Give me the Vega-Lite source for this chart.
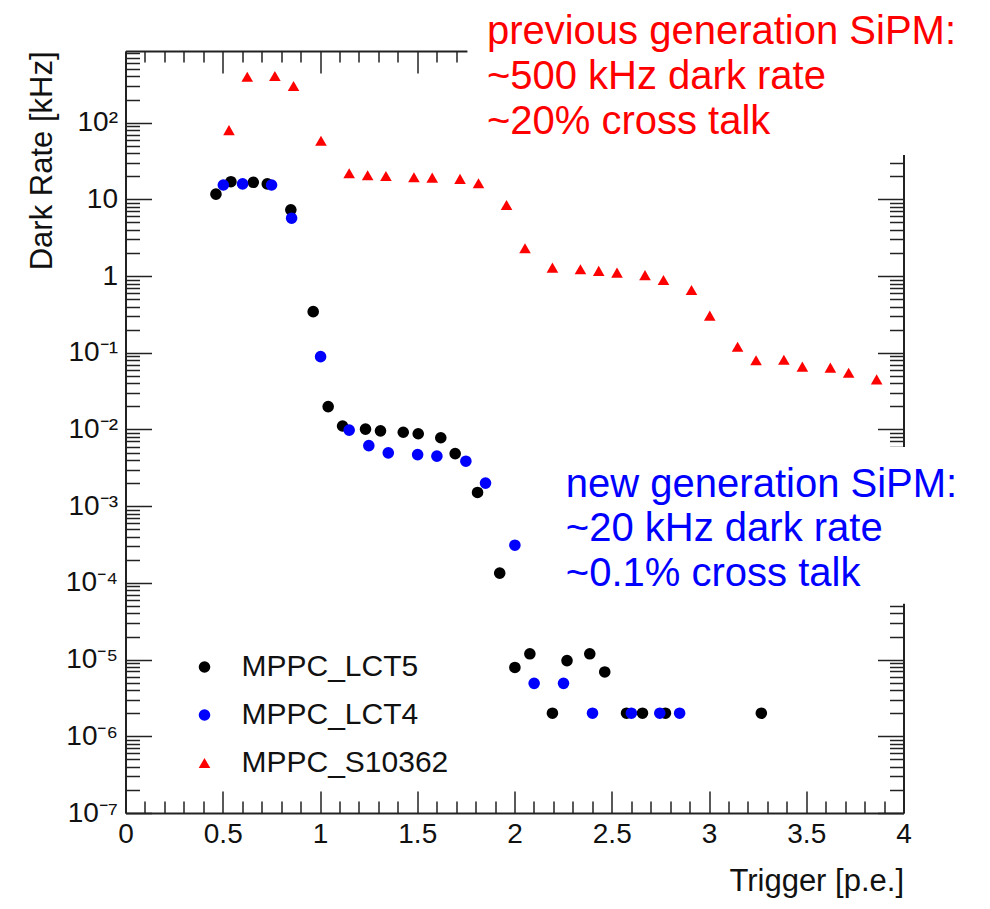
{
  "$schema": "https://vega.github.io/schema/vega-lite/v6.json",
  "width": 778,
  "height": 762,
  "autosize": {"type": "none"},
  "padding": {"left": 125.5, "top": 51, "right": 86.5, "bottom": 96},
  "background": "white",
  "config": {
    "view": {"stroke": null},
    "font": "Liberation Sans",
    "axis": {
      "grid": false,
      "domainColor": "#222222",
      "domainWidth": 2,
      "tickColor": "#222222",
      "tickWidth": 1.5,
      "labelColor": "#111111",
      "labelFont": "Liberation Sans",
      "titleFont": "Liberation Sans",
      "titleColor": "#111111",
      "titleFontWeight": "normal",
      "labelFlush": false,
      "labelOverlap": false
    }
  },
  "datasets": {
    "points": [
      {"s": "MPPC_LCT5", "x": 0.465, "y": 11.7},
      {"s": "MPPC_LCT5", "x": 0.542, "y": 17.0},
      {"s": "MPPC_LCT5", "x": 0.657, "y": 16.7},
      {"s": "MPPC_LCT5", "x": 0.729, "y": 15.9},
      {"s": "MPPC_LCT5", "x": 0.850, "y": 7.3},
      {"s": "MPPC_LCT5", "x": 0.965, "y": 0.344},
      {"s": "MPPC_LCT5", "x": 1.042, "y": 0.0199},
      {"s": "MPPC_LCT5", "x": 1.116, "y": 0.0111},
      {"s": "MPPC_LCT5", "x": 1.234, "y": 0.0101},
      {"s": "MPPC_LCT5", "x": 1.311, "y": 0.0096},
      {"s": "MPPC_LCT5", "x": 1.428, "y": 0.0092},
      {"s": "MPPC_LCT5", "x": 1.505, "y": 0.0088},
      {"s": "MPPC_LCT5", "x": 1.621, "y": 0.0078},
      {"s": "MPPC_LCT5", "x": 1.695, "y": 0.00485},
      {"s": "MPPC_LCT5", "x": 1.810, "y": 0.00151},
      {"s": "MPPC_LCT5", "x": 1.924, "y": 0.000134},
      {"s": "MPPC_LCT5", "x": 2.002, "y": 0.0000079},
      {"s": "MPPC_LCT5", "x": 2.079, "y": 0.0000119},
      {"s": "MPPC_LCT5", "x": 2.195, "y": 0.000002},
      {"s": "MPPC_LCT5", "x": 2.270, "y": 0.0000097},
      {"s": "MPPC_LCT5", "x": 2.387, "y": 0.0000119},
      {"s": "MPPC_LCT5", "x": 2.464, "y": 0.0000069},
      {"s": "MPPC_LCT5", "x": 2.576, "y": 0.000002},
      {"s": "MPPC_LCT5", "x": 2.658, "y": 0.000002},
      {"s": "MPPC_LCT5", "x": 2.776, "y": 0.000002},
      {"s": "MPPC_LCT5", "x": 3.269, "y": 0.000002},
      {"s": "MPPC_LCT4", "x": 0.503, "y": 15.4},
      {"s": "MPPC_LCT4", "x": 0.602, "y": 15.9},
      {"s": "MPPC_LCT4", "x": 0.751, "y": 15.4},
      {"s": "MPPC_LCT4", "x": 0.854, "y": 5.68},
      {"s": "MPPC_LCT4", "x": 1.003, "y": 0.089},
      {"s": "MPPC_LCT4", "x": 1.150, "y": 0.0098},
      {"s": "MPPC_LCT4", "x": 1.251, "y": 0.00617},
      {"s": "MPPC_LCT4", "x": 1.351, "y": 0.00496},
      {"s": "MPPC_LCT4", "x": 1.502, "y": 0.00471},
      {"s": "MPPC_LCT4", "x": 1.601, "y": 0.00449},
      {"s": "MPPC_LCT4", "x": 1.750, "y": 0.00386},
      {"s": "MPPC_LCT4", "x": 1.851, "y": 0.0020},
      {"s": "MPPC_LCT4", "x": 2.002, "y": 0.00031},
      {"s": "MPPC_LCT4", "x": 2.101, "y": 0.0000049},
      {"s": "MPPC_LCT4", "x": 2.252, "y": 0.0000049},
      {"s": "MPPC_LCT4", "x": 2.401, "y": 0.000002},
      {"s": "MPPC_LCT4", "x": 2.601, "y": 0.000002},
      {"s": "MPPC_LCT4", "x": 2.747, "y": 0.000002},
      {"s": "MPPC_LCT4", "x": 2.849, "y": 0.000002},
      {"s": "MPPC_S10362", "x": 0.532, "y": 80},
      {"s": "MPPC_S10362", "x": 0.626, "y": 398},
      {"s": "MPPC_S10362", "x": 0.768, "y": 406},
      {"s": "MPPC_S10362", "x": 0.864, "y": 301},
      {"s": "MPPC_S10362", "x": 1.005, "y": 58},
      {"s": "MPPC_S10362", "x": 1.150, "y": 21.9},
      {"s": "MPPC_S10362", "x": 1.245, "y": 20.6},
      {"s": "MPPC_S10362", "x": 1.339, "y": 20.2},
      {"s": "MPPC_S10362", "x": 1.483, "y": 19.4},
      {"s": "MPPC_S10362", "x": 1.577, "y": 19.2},
      {"s": "MPPC_S10362", "x": 1.720, "y": 18.5},
      {"s": "MPPC_S10362", "x": 1.815, "y": 16.2},
      {"s": "MPPC_S10362", "x": 1.959, "y": 8.45},
      {"s": "MPPC_S10362", "x": 2.054, "y": 2.31},
      {"s": "MPPC_S10362", "x": 2.195, "y": 1.29},
      {"s": "MPPC_S10362", "x": 2.339, "y": 1.23},
      {"s": "MPPC_S10362", "x": 2.433, "y": 1.17},
      {"s": "MPPC_S10362", "x": 2.527, "y": 1.11},
      {"s": "MPPC_S10362", "x": 2.671, "y": 1.03},
      {"s": "MPPC_S10362", "x": 2.766, "y": 0.89},
      {"s": "MPPC_S10362", "x": 2.910, "y": 0.66},
      {"s": "MPPC_S10362", "x": 3.004, "y": 0.305},
      {"s": "MPPC_S10362", "x": 3.147, "y": 0.120},
      {"s": "MPPC_S10362", "x": 3.242, "y": 0.080},
      {"s": "MPPC_S10362", "x": 3.385, "y": 0.081},
      {"s": "MPPC_S10362", "x": 3.480, "y": 0.066},
      {"s": "MPPC_S10362", "x": 3.624, "y": 0.064},
      {"s": "MPPC_S10362", "x": 3.718, "y": 0.055},
      {"s": "MPPC_S10362", "x": 3.862, "y": 0.045}
    ],
    "boxes": [
      {"x0": 1.758, "x1": 4.5, "y0": 37.9, "y1": 5000},
      {"x0": 2.2, "x1": 4.5, "y0": 0.0000533, "y1": 0.00593}
    ],
    "noteOld": [
      {"note": "previous generation SiPM:\n~500 kHz dark rate\n~20% cross talk", "x": 1.858, "y": 1061}
    ],
    "noteNew": [
      {"note": "new generation SiPM:\n~20 kHz dark rate\n~0.1% cross talk", "x": 2.264, "y": 0.001324}
    ]
  },
  "layer": [
    {
      "data": {"name": "boxes"},
      "mark": {"type": "rect", "fill": "white", "strokeWidth": 0},
      "encoding": {
        "x": {
          "field": "x0", "type": "quantitative",
          "scale": {"domain": [0, 4], "nice": false, "zero": false},
          "axis": {
            "orient": "bottom",
            "values": [0, 0.5, 1, 1.5, 2, 2.5, 3, 3.5, 4],
            "tickSize": -22,
            "labelFontSize": 28,
            "labelPadding": 29,
            "labelExpr": "format(datum.value, '~g')",
            "title": "Trigger [p.e.]",
            "titleFontSize": 31,
            "titleX": 778,
            "titleY": 77,
            "titleAlign": "right",
            "titleBaseline": "alphabetic"
          }
        },
        "x2": {"field": "x1"},
        "y": {
          "field": "y0", "type": "quantitative",
          "scale": {"type": "log", "domain": [1e-7, 860], "nice": false},
          "axis": {
            "orient": "left",
            "values": [1e-7, 1e-6, 1e-5, 1e-4, 1e-3, 1e-2, 1e-1, 1, 10, 100],
            "tickSize": -26,
            "labelFontSize": 28,
            "labelPadding": 34,
            "labelExpr": "datum.value > 50 ? '10²' : datum.value > 5 ? '10' : datum.value > 0.5 ? '1' : '10⁻' + ['', '¹', '²', '³', '⁴', '⁵', '⁶', '⁷'][round(-log(datum.value) / LN10)]",
            "title": "Dark Rate [kHz]",
            "titleFontSize": 31,
            "titleAngle": 270,
            "titleX": -74,
            "titleY": 0,
            "titleAlign": "right",
            "titleBaseline": "alphabetic"
          }
        },
        "y2": {"field": "y1"}
      }
    },
    {
      "data": {"name": "points"},
      "mark": {"type": "point", "filled": true, "opacity": 1, "strokeWidth": 0},
      "encoding": {
        "x": {
          "field": "x", "type": "quantitative",
          "scale": {"domain": [0, 4], "nice": false, "zero": false},
          "axis": {
            "orient": "bottom",
            "values": [0.1, 0.2, 0.3, 0.4, 0.6, 0.7, 0.8, 0.9, 1.1, 1.2, 1.3, 1.4, 1.6, 1.7, 1.8, 1.9, 2.1, 2.2, 2.3, 2.4, 2.6, 2.7, 2.8, 2.9, 3.1, 3.2, 3.3, 3.4, 3.6, 3.7, 3.8, 3.9],
            "tickSize": -12,
            "labels": false,
            "domain": false,
            "title": null
          }
        },
        "y": {
          "field": "y", "type": "quantitative",
          "scale": {"type": "log", "domain": [1e-7, 860], "nice": false},
          "axis": {
            "orient": "left",
            "values": [2e-7, 3e-7, 4e-7, 5e-7, 6e-7, 7e-7, 8e-7, 9e-7, 2e-6, 3e-6, 4e-6, 5e-6, 6e-6, 7e-6, 8e-6, 9e-6, 2e-5, 3e-5, 4e-5, 5e-5, 6e-5, 7e-5, 8e-5, 9e-5, 2e-4, 3e-4, 4e-4, 5e-4, 6e-4, 7e-4, 8e-4, 9e-4, 0.002, 0.003, 0.004, 0.005, 0.006, 0.007, 0.008, 0.009, 0.02, 0.03, 0.04, 0.05, 0.06, 0.07, 0.08, 0.09, 0.2, 0.3, 0.4, 0.5, 0.6, 0.7, 0.8, 0.9, 2, 3, 4, 5, 6, 7, 8, 9, 20, 30, 40, 50, 60, 70, 80, 90, 200, 300, 400, 500, 600, 700, 800],
            "tickSize": -14,
            "labels": false,
            "domain": false,
            "title": null
          }
        },
        "color": {
          "field": "s", "type": "nominal",
          "scale": {"domain": ["MPPC_LCT5", "MPPC_LCT4", "MPPC_S10362"], "range": ["#000000", "#0000ff", "#ff0000"]},
          "legend": {
            "orient": "none",
            "legendX": 64,
            "legendY": 601,
            "title": null,
            "padding": 0,
            "labelFontSize": 30,
            "labelFont": "Liberation Sans",
            "labelColor": "#111111",
            "labelLimit": 0,
            "labelOffset": 22,
            "rowPadding": 18,
            "symbolSize": 135,
            "symbolStrokeWidth": 0
          }
        },
        "shape": {
          "field": "s", "type": "nominal",
          "scale": {"domain": ["MPPC_LCT5", "MPPC_LCT4", "MPPC_S10362"], "range": ["circle", "circle", "triangle-up"]}
        },
        "size": {
          "field": "s", "type": "nominal",
          "scale": {"domain": ["MPPC_LCT5", "MPPC_LCT4", "MPPC_S10362"], "range": [135, 135, 165]}
        }
      }
    },
    {
      "data": {"name": "noteOld"},
      "mark": {"type": "text", "align": "left", "baseline": "alphabetic", "fontSize": 40, "font": "Liberation Sans", "lineBreak": "\n", "lineHeight": 45, "color": "#ff0000"},
      "encoding": {
        "x": {
          "field": "x", "type": "quantitative",
          "scale": {"domain": [0, 4], "nice": false, "zero": false},
          "axis": {
            "orient": "top",
            "values": [0, 0.5, 1, 1.5, 2, 2.5, 3, 3.5, 4],
            "tickSize": -22,
            "labels": false,
            "title": null
          }
        },
        "y": {
          "field": "y", "type": "quantitative",
          "scale": {"type": "log", "domain": [1e-7, 860], "nice": false},
          "axis": {
            "orient": "right",
            "values": [1e-7, 1e-6, 1e-5, 1e-4, 1e-3, 1e-2, 1e-1, 1, 10, 100],
            "tickSize": -26,
            "labels": false,
            "title": null
          }
        },
        "text": {"field": "note"}
      }
    },
    {
      "data": {"name": "noteNew"},
      "mark": {"type": "text", "align": "left", "baseline": "alphabetic", "fontSize": 40, "font": "Liberation Sans", "lineBreak": "\n", "lineHeight": 44.5, "color": "#0000ff"},
      "encoding": {
        "x": {
          "field": "x", "type": "quantitative",
          "scale": {"domain": [0, 4], "nice": false, "zero": false},
          "axis": {
            "orient": "top",
            "values": [0.1, 0.2, 0.3, 0.4, 0.6, 0.7, 0.8, 0.9, 1.1, 1.2, 1.3, 1.4, 1.6, 1.7, 1.8, 1.9, 2.1, 2.2, 2.3, 2.4, 2.6, 2.7, 2.8, 2.9, 3.1, 3.2, 3.3, 3.4, 3.6, 3.7, 3.8, 3.9],
            "tickSize": -11,
            "labels": false,
            "domain": false,
            "title": null
          }
        },
        "y": {
          "field": "y", "type": "quantitative",
          "scale": {"type": "log", "domain": [1e-7, 860], "nice": false},
          "axis": {
            "orient": "right",
            "values": [2e-7, 3e-7, 4e-7, 5e-7, 6e-7, 7e-7, 8e-7, 9e-7, 2e-6, 3e-6, 4e-6, 5e-6, 6e-6, 7e-6, 8e-6, 9e-6, 2e-5, 3e-5, 4e-5, 5e-5, 6e-5, 7e-5, 8e-5, 9e-5, 2e-4, 3e-4, 4e-4, 5e-4, 6e-4, 7e-4, 8e-4, 9e-4, 0.002, 0.003, 0.004, 0.005, 0.006, 0.007, 0.008, 0.009, 0.02, 0.03, 0.04, 0.05, 0.06, 0.07, 0.08, 0.09, 0.2, 0.3, 0.4, 0.5, 0.6, 0.7, 0.8, 0.9, 2, 3, 4, 5, 6, 7, 8, 9, 20, 30, 40, 50, 60, 70, 80, 90, 200, 300, 400, 500, 600, 700, 800],
            "tickSize": -14,
            "labels": false,
            "domain": false,
            "title": null
          }
        },
        "text": {"field": "note"}
      }
    }
  ],
  "resolve": {"axis": {"x": "independent", "y": "independent"}}
}
